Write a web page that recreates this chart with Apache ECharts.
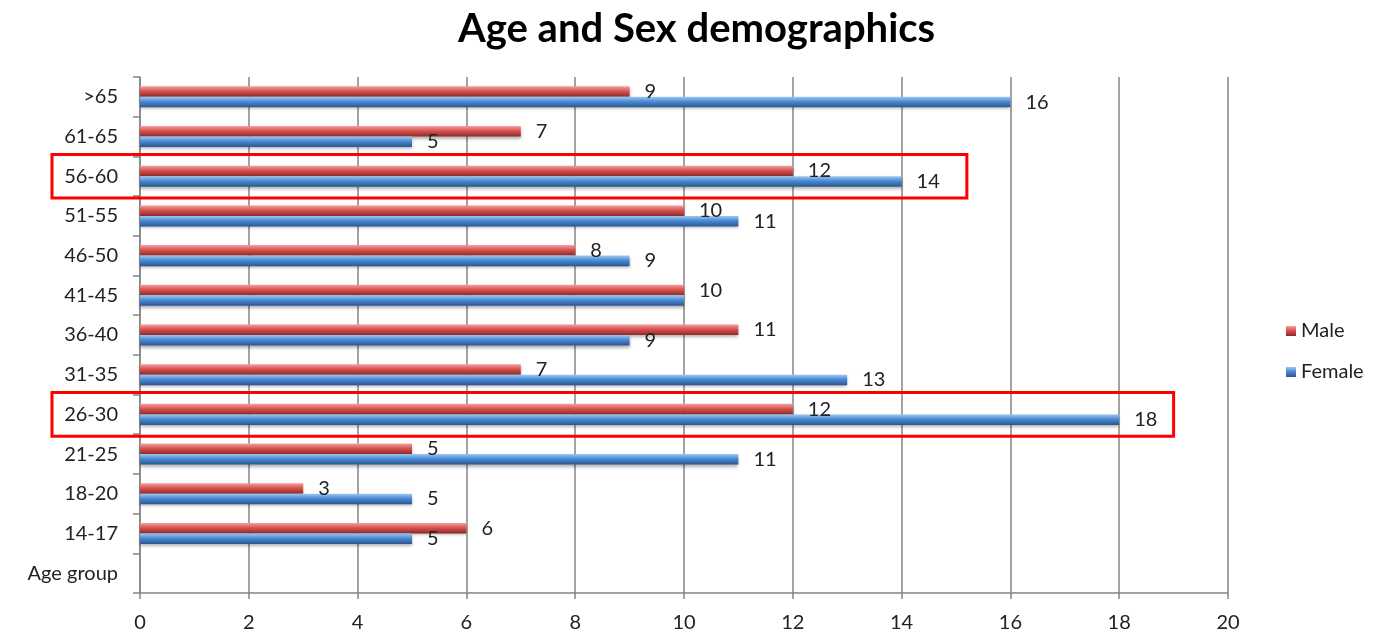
<!DOCTYPE html>
<html>
<head>
<meta charset="utf-8">
<script src="https://cdn.jsdelivr.net/npm/echarts@6/dist/echarts.min.js"></script>
<style>html,body{margin:0;padding:0;background:#fff}#c{width:1374px;height:637px}</style>
</head>
<body>
<div id="c"></div>
<script>
const categories = ['Age group','14-17','18-20','21-25','26-30','31-35','36-40','41-45','46-50','51-55','56-60','61-65','>65'];
const male = [null,6,3,5,12,7,11,10,8,10,12,7,9];
const female = [null,5,5,11,18,13,9,10,9,11,14,5,16];
const xTicks = [0,2,4,6,8,10,12,14,16,18,20];
const highlighted = ['56-60','26-30'];
const highlightEnd = [15.2, 19.0];

const FONT = 'Lato, "Open Sans", sans-serif';
function grad(light, mid, dark) {
  return new echarts.graphic.LinearGradient(0,0,0,1,[
    {offset:0,color:light},{offset:0.45,color:mid},{offset:1,color:dark}
  ]);
}
const chart = echarts.init(document.getElementById('c'), null, {renderer:'canvas'});
const labelCfg = {show:true, position:'right', distance:15, color:'#222', fontSize:20, fontFamily:FONT};
chart.setOption({
  animation:false,
  title:{text:'Age and Sex demographics', left:453, top:4,
    textStyle:{fontSize:40, fontWeight:'bold', color:'#000', fontFamily:FONT}},
  legend:{orient:'vertical', left:1281, top:316, itemGap:21, itemWidth:10, itemHeight:10, icon:'rect',
    data:['Male','Female'], textStyle:{fontSize:20, color:'#222', fontFamily:FONT}},
  grid:{left:140, right:146, top:77, bottom:44, containLabel:false},
  xAxis:{type:'value', min:0, max:20, interval:2,
    axisLine:{show:true, lineStyle:{color:'#858585', width:1.5}},
    axisTick:{show:true, length:6, lineStyle:{color:'#858585', width:1.5}},
    splitLine:{show:true, lineStyle:{color:'#858585', width:1.5}},
    axisLabel:{margin:20, fontSize:20, color:'#222', fontFamily:FONT,
      formatter:v => xTicks.indexOf(v) >= 0 ? String(v) : ''}},
  yAxis:{type:'category', data:categories,
    axisLine:{show:true, lineStyle:{color:'#858585', width:1.5}},
    axisTick:{show:true, length:7, alignWithLabel:false, lineStyle:{color:'#858585', width:1.5}},
    axisLabel:{margin:22, fontSize:20, color:'#222', fontFamily:FONT}},
  series:[
    {name:'Male', type:'bar', data:male, barGap:'0%', barCategoryGap:'47%',
      itemStyle:{color:grad('#f4a0a0','#d9534f','#8e2a28'), shadowColor:'rgba(0,0,0,0.3)', shadowBlur:3, shadowOffsetY:2},
      label:labelCfg, labelLayout:{hideOverlap:true}},
    {name:'Female', type:'bar', data:female, barGap:'0%', barCategoryGap:'47%',
      itemStyle:{color:grad('#9cc8f2','#4a8ad4','#2a578f'), shadowColor:'rgba(0,0,0,0.3)', shadowBlur:3, shadowOffsetY:2},
      label:labelCfg, labelLayout:{hideOverlap:true}}
  ]
});
// red highlight boxes around selected rows
const band = chart.convertToPixel({yAxisIndex:0}, categories[0]) - chart.convertToPixel({yAxisIndex:0}, categories[1]);
const graphics = highlighted.map((cat, i) => {
  const cy = chart.convertToPixel({yAxisIndex:0}, cat);
  const xr = chart.convertToPixel({xAxisIndex:0}, highlightEnd[i]);
  const xl = 52;
  const h = Math.abs(band) * 1.1;
  return {type:'rect', shape:{x:xl, y:cy - h/2, width:xr - xl, height:h},
    style:{fill:'none', stroke:'#ff0000', lineWidth:3}, z:100};
});
chart.setOption({graphic:graphics});
</script>
</body>
</html>
